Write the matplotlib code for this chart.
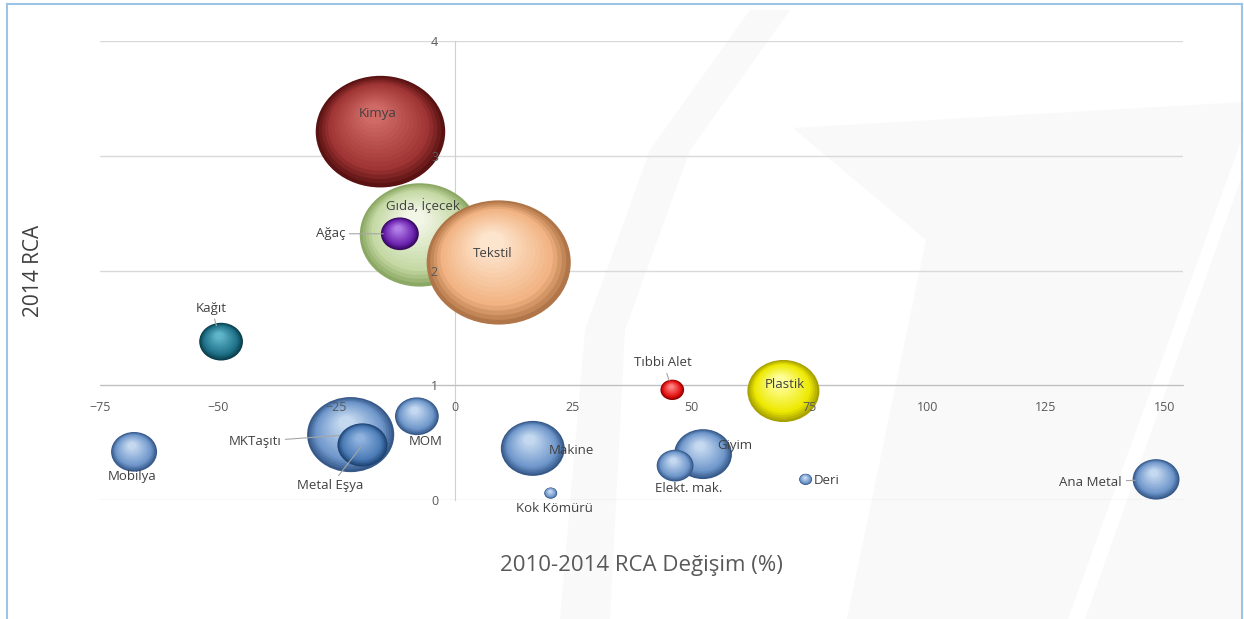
"""
2014 RCA vs 2010-2014 RCA change, bubble chart (Excel-style 3D bubbles)
"""

import numpy as np
import matplotlib.pyplot as plt
from matplotlib.path import Path
from matplotlib.markers import MarkerStyle
from matplotlib.transforms import Affine2D, ScaledTranslation
from matplotlib.colors import to_rgb
from matplotlib.patches import Polygon
from matplotlib.lines import Line2D

plt.rcParams['font.family'] = ['Open Sans', 'DejaVu Sans']

# data
sectors = ["Kimya", "Gıda, İçecek", "Tekstil", "Ağaç", "Kağıt", "Tıbbi Alet",
           "Plastik", "MKTaşıtı", "Metal Eşya", "MOM", "Mobilya", "Makine",
           "Kok Kömürü", "Giyim", "Elekt. mak.", "Deri", "Ana Metal"]
rca_change = [-15.7, -7.4, 9.3, -11.6, -49.4, 46.0, 69.5, -22.0, -19.5, -8.0,
              -67.8, 16.5, 20.3, 52.5, 46.6, 74.2, 148.3]
rca_2014 = [3.21, 2.31, 2.07, 2.32, 1.38, 0.96, 0.95, 0.57, 0.48, 0.73,
            0.42, 0.45, 0.06, 0.40, 0.30, 0.18, 0.18]
bubble_size = [42, 36, 52, 3.6, 4.8, 1.4, 13, 19, 6.3, 4.8,
               5.3, 10.2, 0.42, 8.4, 3.4, 0.42, 5.5]
x_ticks = [-75, -50, -25, 0, 25, 50, 75, 100, 125, 150]
y_ticks = [0, 1, 2, 3, 4]

# colours (dark rim, mid, highlight)
blue = ('#36598a', '#6f97cb', '#c4d8f0')
colours = [
    ('#5a1212', '#9e3433', '#cf6a66'),
    ('#8ca865', '#c4d8a2', '#f1f6e6'),
    ('#b07548', '#f2b382', '#fde4cc'),
    ('#36085f', '#6b22ae', '#b07ce6'),
    ('#0b3e4c', '#1e7188', '#5fb4c8'),
    ('#8a0000', '#e31010', '#ff8080'),
    ('#a8a200', '#ede800', '#ffff9a'),
    blue,
    ('#1f4575', '#4a7bb6', '#8fb2de'),
    blue, blue, blue, blue, blue, blue, blue, blue,
]

# label offsets (points) and leader-line shrink
label_off = [(-2, 13), (2, 21), (-4, 6.5), (-50, 0), (-7, 24), (-6.5, 19.5),
             (0.7, 5), (-69, -5), (-23, -29.5), (6.5, -18), (-1.5, -18),
             (28, -1.5), (3, -11), (23, 6.5), (9.5, -16.5), (15, -0.7),
             (-47, -2)]
leader = {"Ağaç": 12, "Kağıt": 12, "Tıbbi Alet": 7, "MKTaşıtı": 8,
          "Metal Eşya": 2, "Ana Metal": 15}

fig = plt.figure(figsize=(12.44, 6.19), dpi=100)

# faint watermark in the background
def px(pts):
    return [(x / 1244, 1 - y / 619) for x, y in pts]

for pts in ([(793, 128), (1244, 102), (1244, 619), (847, 619), (926, 240)],
            [(560, 619), (585, 330), (650, 150), (750, 10), (790, 10),
             (690, 150), (625, 330), (610, 619)]):
    fig.add_artist(Polygon(px(pts), closed=True, transform=fig.transFigure,
                           facecolor='#f9f9f9', edgecolor='none', zorder=0))
fig.add_artist(Polygon(px([(1244, 133), (1244, 170), (1085, 619), (1068, 619)]),
                       closed=True, transform=fig.transFigure,
                       facecolor='white', edgecolor='none', zorder=0))

ax = fig.add_axes([0.0804, 0.1922, 0.8706, 0.7416])
ax.patch.set_alpha(0)
ax.set_xlim(-75, 154)
ax.set_ylim(0, 4)

for yv in y_ticks:
    ax.axhline(yv, color='#d9d9d9', lw=1.0, zorder=0.5)

for side in ('top', 'right'):
    ax.spines[side].set_visible(False)
ax.spines['left'].set_position(('data', 0))
ax.spines['bottom'].set_position(('data', 1))
ax.spines['left'].set_color('#d0d0d0')
ax.spines['bottom'].set_color('#bfbfbf')
ax.spines['left'].set_zorder(1)
ax.spines['bottom'].set_zorder(1)

ax.set_xticks(x_ticks)
ax.set_yticks(y_ticks)
ax.tick_params(axis='x', length=0, pad=11, labelsize=9, labelcolor='#595959')
ax.tick_params(axis='y', length=0, pad=12, labelsize=9, labelcolor='#595959')
ax.xaxis.set_zorder(60)
ax.yaxis.set_zorder(60)

ell = MarkerStyle(Path.unit_circle().transformed(Affine2D().scale(1.16, 1.0)))

def blend(c1, c2, t):
    a, b = np.array(to_rgb(c1)), np.array(to_rgb(c2))
    return tuple(a + (b - a) * t)

nlayer = 16
for k, name in enumerate(sectors):
    s = bubble_size[k] * 207
    rx = np.sqrt(s) / 2
    ry = rx / 1.16
    dark, mid, light = colours[k]
    for i in range(nlayer):
        t = i / (nlayer - 1)
        f = 1 - 0.82 * t
        if t < 0.25:
            c = blend(dark, mid, t / 0.25)
        else:
            c = blend(mid, light, (t - 0.25) / 0.75)
        dx = -(1 - f) * 0.12 * rx / 72
        dy = (1 - f) * 0.38 * ry / 72
        tr = ax.transData + ScaledTranslation(dx, dy, fig.dpi_scale_trans)
        ax.scatter(rca_change[k], rca_2014[k], s=s * f * f, marker=ell,
                   color=c, edgecolors='none', transform=tr,
                   zorder=3 + k + i / 100)

for k, name in enumerate(sectors):
    if name in leader:
        ap = dict(arrowstyle='-', color='#a6a6a6', lw=0.8,
                  shrinkA=1, shrinkB=leader[name])
    else:
        ap = None
    ax.annotate(name, (rca_change[k], rca_2014[k]), xytext=label_off[k],
                textcoords='offset points', ha='center', va='center',
                fontsize=9.5, color='#404040', arrowprops=ap, zorder=100)

ax.set_xlabel("2010-2014 RCA Değişim (%)", fontsize=16, color='#595959')
ax.xaxis.set_label_coords(0.5, -0.12)
ax.set_ylabel("2014 RCA", fontsize=15, color='#404040')
ax.yaxis.set_label_coords(-0.052, 0.5)

# light blue frame of the chart area
for xs, ys in (([0.006, 0.006], [0, 0.993]), ([0.006, 0.998], [0.993, 0.993]),
               ([0.998, 0.998], [0, 0.993])):
    fig.add_artist(Line2D(xs, ys, transform=fig.transFigure,
                          color='#9dc3e6', lw=1.5, zorder=200))

fig.savefig("out.png", dpi=100)
